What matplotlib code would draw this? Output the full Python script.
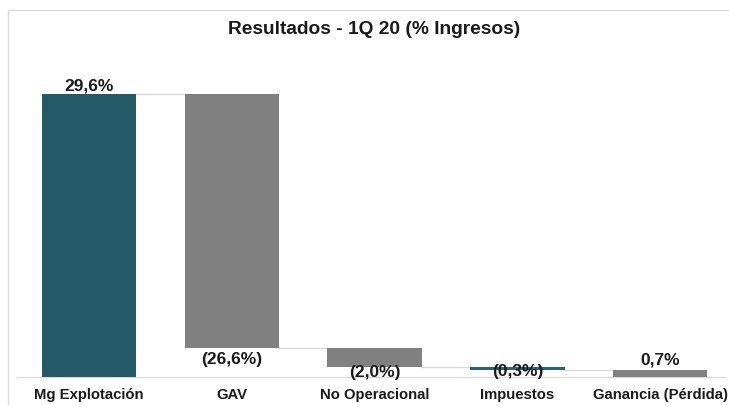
import matplotlib.pyplot as plt
from matplotlib.patches import Rectangle

categories = ['Mg Explotación', 'GAV', 'No Operacional', 'Impuestos', 'Ganancia (Pérdida)']
values = [29.6, -26.6, -2.0, -0.3, 0.7]
is_total = [True, False, False, False, True]

teal = '#245a67'
gray = '#808080'
colors = [teal, gray, gray, '#2a6474', gray]
# label offsets in pixels (Excel's placement is not uniform)
label_offsets = [9, -10, -4, 0, 11]

plt.rcParams['font.family'] = ['Liberation Sans', 'DejaVu Sans']

# Waterfall bottoms/tops
bottoms, tops = [], []
running = 0.0
for v, tot in zip(values, is_total):
    if tot:
        bottoms.append(0.0)
        tops.append(v)
        running = v
    else:
        new = running + v
        bottoms.append(min(running, new))
        tops.append(max(running, new))
        running = new

fig = plt.figure(figsize=(7.29, 4.06), dpi=100)
fig.patches.append(Rectangle((8 / 729, -0.01), 1, 1 - 11 / 406 + 0.01, transform=fig.transFigure,
                             fill=False, edgecolor='#d9d9d9', linewidth=1))
ax = fig.add_axes([0.024, 0.069, 0.970, 0.766])

x = list(range(len(categories)))
width = 0.66
heights = [t - b for t, b in zip(tops, bottoms)]
ax.bar(x, heights, bottom=bottoms, width=width, color=colors, zorder=3)

# connector lines
for i in range(len(x) - 1):
    level = bottoms[i] if values[i] < 0 else tops[i]
    ax.plot([x[i] + width / 2, x[i + 1] - width / 2], [level, level],
            color='#d9d9d9', linewidth=1, zorder=2)

for i, v in enumerate(values):
    txt = f'{abs(v):.1f}%'.replace('.', ',')
    if v < 0:
        txt = f'({txt})'
        y = bottoms[i]
    else:
        y = tops[i]
    ax.annotate(txt, (x[i], y), xytext=(0, label_offsets[i] * 0.72), textcoords='offset points',
                ha='center', va='center', fontsize=12.5, fontweight='bold', color='#1a1a1a', zorder=4)

ax.set_xlim(-0.5, 4.45)
ax.set_ylim(0, 32.5)
ax.set_xticks(x)
ax.set_xticklabels(categories, fontsize=10.7, fontweight='bold', color='#1a1a1a')
ax.tick_params(axis='x', length=0, pad=7)
ax.set_yticks([])
for s in ['top', 'right', 'left']:
    ax.spines[s].set_visible(False)
ax.spines['bottom'].set_color('#d9d9d9')

fig.text(0.513, 1 - 30 / 406, 'Resultados - 1Q 20 (% Ingresos)', ha='center', va='center',
         fontsize=13.8, fontweight='bold', color='#1a1a1a')

fig.savefig('out.png', dpi=100)
